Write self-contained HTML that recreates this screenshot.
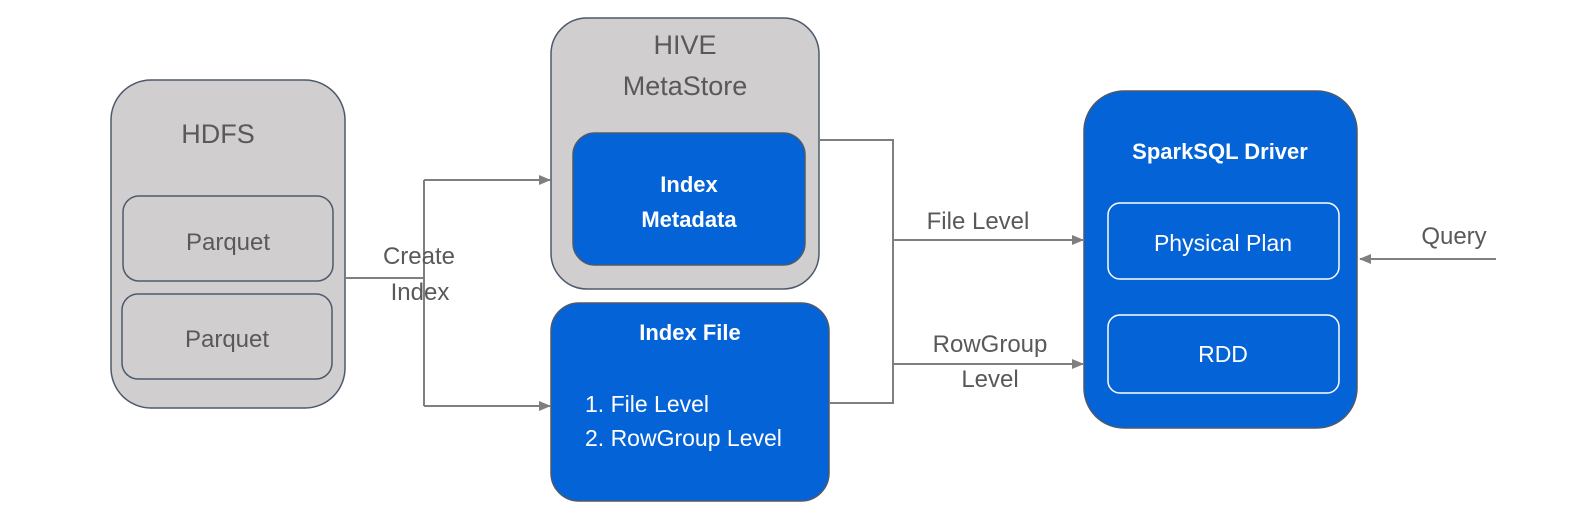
<!DOCTYPE html>
<html><head><style>
body{margin:0;background:#fff;}
text{font-family:"Liberation Sans",sans-serif;}
</style></head><body>
<svg width="1570" height="512" viewBox="0 0 1570 512" xmlns="http://www.w3.org/2000/svg">
<defs><marker id="a" markerWidth="12" markerHeight="10" refX="11" refY="5" orient="auto" markerUnits="userSpaceOnUse"><path d="M0,0 L12,5 L0,10 Z" fill="#7f7f7f"/></marker></defs>
<g fill="#d0cecf" stroke="#4d5a6b" stroke-width="1.5">
<rect x="111" y="80" width="234" height="328" rx="40"/>
<rect x="123" y="196" width="210" height="85" rx="16"/>
<rect x="122" y="294" width="210" height="85" rx="16"/>
<rect x="551" y="18" width="268" height="271" rx="36"/>
</g>
<g fill="#0563d8" stroke="#4d5a6b" stroke-width="1.5">
<rect x="573" y="133" width="232" height="132" rx="22"/>
<rect x="551" y="303" width="278" height="198" rx="28"/>
<rect x="1084" y="91" width="273" height="337" rx="40"/>
</g>
<g fill="none" stroke="#fff" stroke-width="1.5">
<rect x="1108" y="203" width="231" height="76" rx="12"/>
<rect x="1108" y="315" width="231" height="78" rx="12"/>
</g>
<g fill="none" stroke="#7f7f7f" stroke-width="2">
<path d="M346,278 H424 M424,180 V406"/>
<path d="M424,180 H550" marker-end="url(#a)"/>
<path d="M424,406 H550" marker-end="url(#a)"/>
<path d="M819,140 H893 V403 H829"/>
<path d="M893,240 H1083" marker-end="url(#a)"/>
<path d="M893,364 H1083" marker-end="url(#a)"/>
<path d="M1496,259 H1360" marker-end="url(#a)"/>
</g>
<g fill="#595959" font-size="24" text-anchor="middle">
<text x="218" y="143" font-size="27">HDFS</text>
<text x="228" y="250">Parquet</text>
<text x="227" y="347">Parquet</text>
<text x="685" y="54" font-size="27">HIVE</text>
<text x="685" y="95" font-size="27">MetaStore</text>
<text x="419" y="264">Create</text>
<text x="420" y="300">Index</text>
<text x="978" y="229">File Level</text>
<text x="990" y="352">RowGroup</text>
<text x="990" y="387">Level</text>
<text x="1454" y="244">Query</text>
</g>
<g fill="#fff" text-anchor="middle" font-size="22">
<text x="689" y="192" font-weight="bold">Index</text>
<text x="689" y="227" font-weight="bold">Metadata</text>
<text x="690" y="340" font-weight="bold">Index File</text>
<text x="585" y="412" text-anchor="start" font-size="23">1. File Level</text>
<text x="585" y="446" text-anchor="start" font-size="23">2. RowGroup Level</text>
<text x="1220" y="159" font-weight="bold">SparkSQL Driver</text>
<text x="1223" y="251" font-size="23">Physical Plan</text>
<text x="1223" y="362" font-size="23">RDD</text>
</g>
</svg>
</body></html>
